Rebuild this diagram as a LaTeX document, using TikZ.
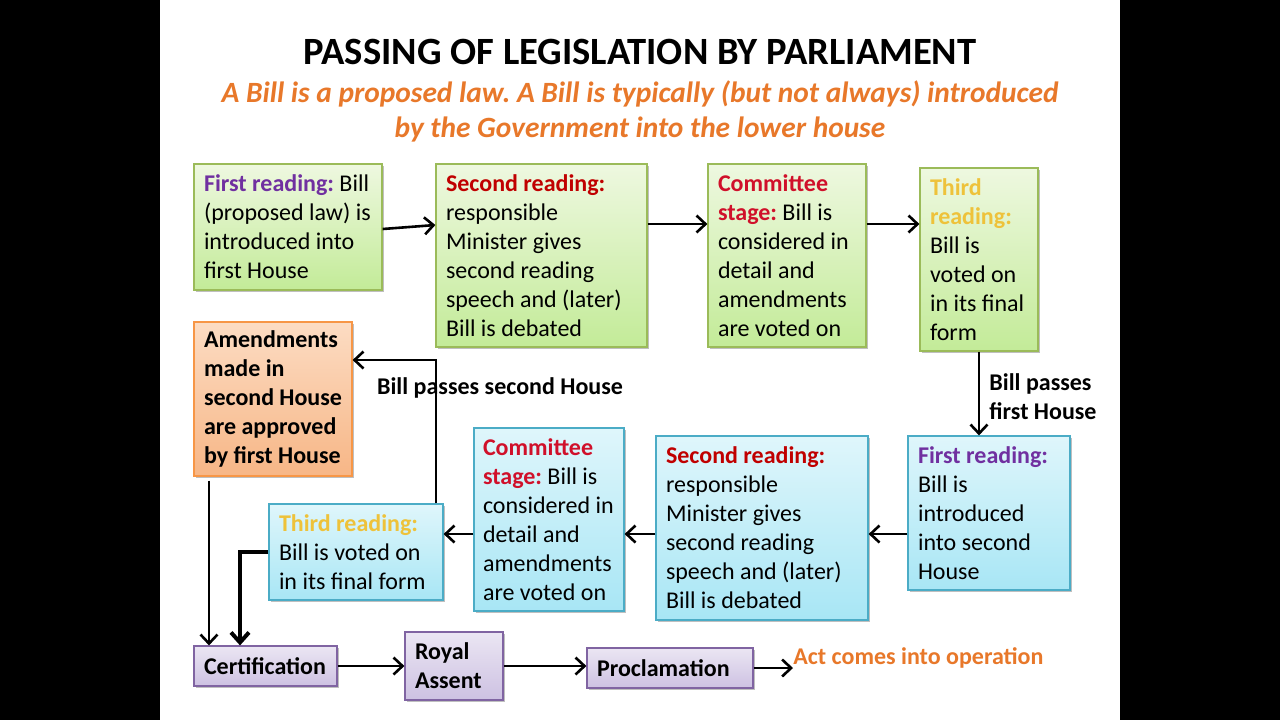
\documentclass[tikz,border=0pt]{standalone}
\usepackage{fontspec}
\setmainfont{Carlito}
\usetikzlibrary{arrows.meta,shadows}
\definecolor{grnT}{HTML}{EEF8E0}
\definecolor{grnB}{HTML}{C3EB98}
\definecolor{grnD}{HTML}{9BBB59}
\definecolor{bluT}{HTML}{DFF6FB}
\definecolor{bluB}{HTML}{A8E6F5}
\definecolor{bluD}{HTML}{4BACC6}
\definecolor{orT}{HTML}{FCDCC3}
\definecolor{orB}{HTML}{F7B686}
\definecolor{orD}{HTML}{F79646}
\definecolor{puT}{HTML}{EBE6F3}
\definecolor{puB}{HTML}{CDC1E2}
\definecolor{puD}{HTML}{8064A2}
\definecolor{labPur}{HTML}{7030A0}
\definecolor{labRed}{HTML}{C00000}
\definecolor{labCom}{HTML}{D0102A}
\definecolor{labGold}{HTML}{EEC23A}
\definecolor{subOr}{HTML}{E8782A}
\newcommand{\labP}[1]{\textcolor{labPur}{\textbf{#1}}}
\newcommand{\labR}[1]{\textcolor{labRed}{\textbf{#1}}}
\newcommand{\labC}[1]{\textcolor{labCom}{\textbf{#1}}}
\newcommand{\labG}[1]{\textcolor{labGold}{\textbf{#1}}}
\frenchspacing
\begin{document}
\begin{tikzpicture}[x=0.5pt,y=-0.5pt,
  box/.style={draw, line width=0.6pt, inner xsep=5pt, inner ysep=2pt, align=flush left,
    font=\fontsize{12}{14.5}\selectfont,
    drop shadow={shadow xshift=1pt, shadow yshift=-1pt, opacity=0.25, fill=black}},
  gbox/.style={box, draw=grnD, top color=grnT, bottom color=grnB},
  bbox/.style={box, draw=bluD, top color=bluT, bottom color=bluB},
  obox/.style={box, draw=orD, top color=orT, bottom color=orB},
  pbox/.style={box, draw=puD, top color=puT, bottom color=puB},
  arr/.style={line width=1.3pt, -{Straight Barb[length=4.5pt,width=8.5pt,line width=1.3pt]}},
  lbl/.style={font=\fontsize{12}{14.5}\selectfont\bfseries, align=flush left, inner sep=0pt}
]
\fill[black] (0,0) rectangle (1280,720);
\fill[white] (160,0) rectangle (1120,720);
\useasboundingbox (0,0) rectangle (1280,720);

\node[font=\fontsize{19.3}{23}\selectfont\bfseries] (title) at (640,52) {PASSING OF LEGISLATION BY PARLIAMENT};
\node[font=\fontsize{14.7}{17.5}\selectfont\bfseries\itshape, text=subOr, align=flush center] (sub) at (640,111)
  {A Bill is a proposed law. A Bill is typically (but not always) introduced\\by the Government into the lower house};

% top row
\node[gbox, minimum width=94pt, minimum height=63pt, text width=84pt] (A1) at (288,227)
  {\labP{First reading:} Bill\\(proposed law) is\\introduced into\\first House};
\node[gbox, minimum width=105.5pt, minimum height=91.5pt, text width=95.5pt] (A2) at (541.5,255.5)
  {\labR{Second reading:}\\responsible\\Minister gives\\second reading\\speech and (later)\\Bill is debated};
\node[gbox, minimum width=79pt, minimum height=91.5pt, text width=69pt] (A3) at (787,255.5)
  {\labC{Committee}\\\labC{stage:} Bill is\\considered in\\detail and\\amendments\\are voted on};
\node[gbox, minimum width=59pt, minimum height=91.5pt, text width=49pt] (A4) at (979,259.5)
  {\labG{Third}\\\labG{reading:}\\Bill is\\voted on\\in its final\\form};

% bottom row
\node[bbox, minimum width=81pt, minimum height=77pt, text width=71pt] (B1) at (989,513)
  {\labP{First reading:}\\Bill is\\introduced\\into second\\House};
\node[bbox, minimum width=106pt, minimum height=92pt, text width=96pt] (B2) at (762,528)
  {\labR{Second reading:}\\responsible\\Minister gives\\second reading\\speech and (later)\\Bill is debated};
\node[bbox, minimum width=75pt, minimum height=91.5pt, inner xsep=4.5pt, text width=66pt] (B3) at (549,519.5)
  {\labC{Committee}\\\labC{stage:} Bill is\\considered~in\\detail and\\amendments\\are voted on};
\node[bbox, minimum width=87pt, minimum height=48pt, text width=77pt] (B4) at (356,552)
  {\labG{Third reading:}\\Bill is voted on\\in its final form};
\node[obox, minimum width=79pt, minimum height=77pt, text width=69pt, font=\fontsize{12}{14.5}\selectfont\bfseries] (Am) at (273,399)
  {Amendments\\made in\\second House\\are approved\\by first House};

% final row
\node[pbox, minimum width=71.5pt, minimum height=20pt, text width=61.5pt, font=\fontsize{12}{14.5}\selectfont\bfseries] (Ce) at (265.5,666) {Certification};
\node[pbox, minimum width=49pt, minimum height=34pt, text width=39pt, font=\fontsize{12}{14.5}\selectfont\bfseries] (Ro) at (454,666) {Royal\\Assent};
\node[pbox, minimum width=83pt, minimum height=20pt, text width=73pt, font=\fontsize{12}{14.5}\selectfont\bfseries] (Pr) at (670,668) {Proclamation};
\node[lbl, text=subOr, anchor=west] (Act) at (793,658) {Act comes into operation};

% labels
\node[lbl, anchor=west] (L1) at (989,397) {Bill passes\\first House};
\node[lbl] (L2) at (500,388) {Bill passes second House};

% helper coordinates
\coordinate (r1) at (0,224);
\coordinate (r2) at (0,534);
\coordinate (c1) at (436,360);
\coordinate (c2) at (209,0);
\coordinate (c3) at (240,552);

% connectors
\draw[arr] ([yshift=-1pt]A1.east) -- ([yshift=1pt]A2.west |- A1.east);
\draw[arr] (A2.east |- r1) -- (A3.west |- r1);
\draw[arr] (A3.east |- r1) -- (A4.west |- r1);
\draw[arr] (A4.south) -- (A4.south |- B1.north);
\draw[arr] (B1.west |- r2) -- (B2.east |- r2);
\draw[arr] (B2.west |- r2) -- (B3.east |- r2);
\draw[arr] (B3.west |- r2) -- (B4.east |- r2);
\draw[arr] (B4.north -| c1) -- (c1) -- (Am.east |- c1);
\draw[arr] ([yshift=-2pt]Am.south -| c2) -- (Ce.north -| c2);
\draw[line width=2pt, -{Straight Barb[length=5pt,width=9pt,line width=2pt]}] (B4.west |- c3) -- (c3) -- (Ce.north -| c3);
\draw[arr] (Ce.east) -- (Ro.west);
\draw[arr] (Ro.east) -- (Pr.west |- Ro.east);
\draw[arr] (Pr.east) -- (Act.west |- Pr.east);
\end{tikzpicture}
\end{document}
